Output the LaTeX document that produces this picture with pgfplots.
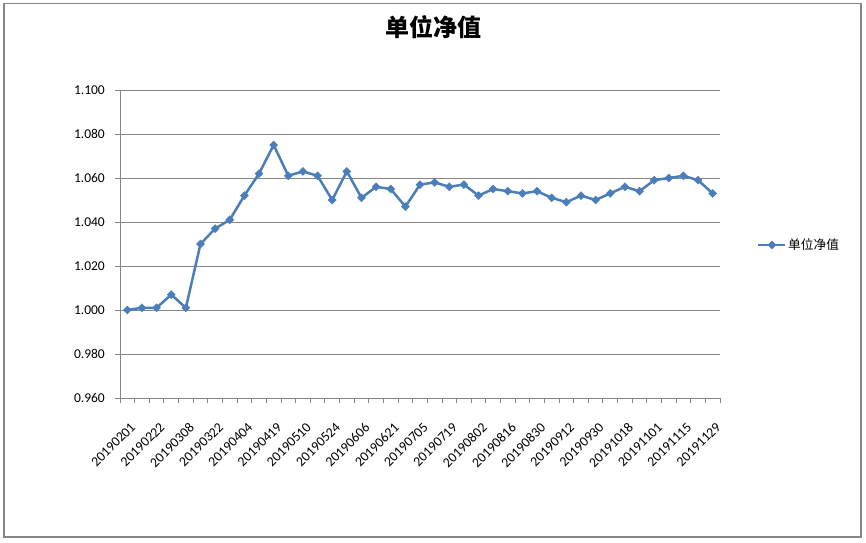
\documentclass[border=0pt]{standalone}
\usepackage{fontspec}
\setmainfont{Carlito}
\newfontfamily\cjk{Noto Sans CJK SC}
\usepackage{pgfplots}
\pgfplotsset{compat=1.18}
\definecolor{serie}{HTML}{4A7EBB}
\definecolor{gridc}{HTML}{868686}
\begin{document}
\begin{tikzpicture}
\path[use as bounding box] (0pt,0pt) rectangle (866pt,542pt);
\draw[gridc, line width=1.2pt] (4pt,5pt) rectangle (861pt,538.5pt);
\node[font=\cjk\bfseries\fontsize{24}{28}\selectfont] at (433.5pt,514.5pt) {单位净值};
\begin{axis}[
    at={(120pt,144pt)}, anchor=south west,
    scale only axis, width=600pt, height=308pt,
    xmin=-0.5, xmax=40.5,
    ymin=0.96, ymax=1.1,
    ytick={0.96,0.98,1.00,1.02,1.04,1.06,1.08,1.10},
    /pgf/number format/fixed, /pgf/number format/fixed zerofill,
    /pgf/number format/precision=3, /pgf/number format/assume math mode=true,
    xtick={0,2,...,40},
    xticklabels={20190201,20190222,20190308,20190322,20190404,20190419,20190510,20190524,20190606,20190621,20190705,20190719,20190802,20190816,20190830,20190912,20190930,20191018,20191101,20191115,20191129},
    xtick style={draw=none},
    xticklabel style={font=\fontsize{13.8}{15}\selectfont, xshift=2.5pt, yshift=-18.5pt, anchor=north east, rotate=45, inner sep=0pt},
    extra x ticks={-0.5,0.5,...,40.5},
    extra x tick labels={},
    extra x tick style={grid=none, xtick style={draw=gridc, line width=0.9pt}},
    axis x line*=bottom, axis y line*=left,
    axis line style={gridc, line width=0.9pt},
    ytick style={gridc, line width=0.9pt},
    tick align=outside, major tick length=5pt,
    ymajorgrids, grid style={gridc, line width=0.9pt},
    yticklabel style={font=\fontsize{13.5}{15}\selectfont, inner sep=0pt, xshift=-10pt},
    legend style={draw=none, fill=none, at={(1.0617,0.4968)}, anchor=west, inner sep=0pt,
        nodes={inner sep=1.5pt, font=\cjk\fontsize{12.7}{15}\selectfont}},
    legend image code/.code={\draw[mark repeat=2, mark phase=2, #1] plot coordinates {(0pt,0pt) (13.5pt,0pt) (27pt,0pt)};},
]
\addplot[serie, line width=2.5pt, mark=square*, mark size=2.8pt, mark options={rotate=45, line width=0.5pt}] coordinates {
(0,1.000) (1,1.001) (2,1.001) (3,1.007) (4,1.001) (5,1.030) (6,1.037) (7,1.041) (8,1.052) (9,1.062)
(10,1.075) (11,1.061) (12,1.063) (13,1.061) (14,1.050) (15,1.063) (16,1.051) (17,1.056) (18,1.055) (19,1.047)
(20,1.057) (21,1.058) (22,1.056) (23,1.057) (24,1.052) (25,1.055) (26,1.054) (27,1.053) (28,1.054) (29,1.051)
(30,1.049) (31,1.052) (32,1.050) (33,1.053) (34,1.056) (35,1.054) (36,1.059) (37,1.060) (38,1.061) (39,1.059)
(40,1.053)};
\addlegendentry{单位净值}
\end{axis}
\end{tikzpicture}
\end{document}
